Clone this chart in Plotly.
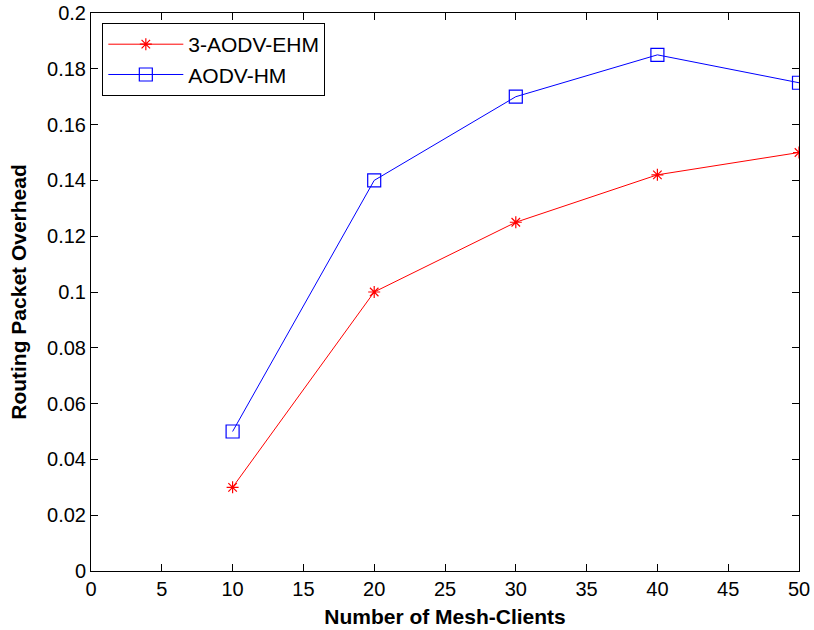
import plotly.graph_objects as go

# Number of mesh clients and the routing overhead measured for each protocol
clients = [10, 20, 30, 40, 50]
overhead_3aodv_ehm = [0.03, 0.10, 0.125, 0.142, 0.150]
overhead_aodv_hm = [0.05, 0.14, 0.17, 0.185, 0.175]

x_ticks = [0, 5, 10, 15, 20, 25, 30, 35, 40, 45, 50]
y_ticks = [0, 0.02, 0.04, 0.06, 0.08, 0.1, 0.12, 0.14, 0.16, 0.18, 0.2]
y_tick_text = ["0", "0.02", "0.04", "0.06", "0.08", "0.1", "0.12", "0.14", "0.16", "0.18", "0.2"]

fig = go.Figure()
fig.add_trace(go.Scatter(
    x=clients, y=overhead_3aodv_ehm, name="3-AODV-EHM",
    mode="lines+markers",
    line=dict(color="#ff0000", width=1),
    marker=dict(symbol="asterisk-open", size=10, color="#ff0000",
                line=dict(color="#ff0000", width=1.2)),
))
fig.add_trace(go.Scatter(
    x=clients, y=overhead_aodv_hm, name="AODV-HM",
    mode="lines+markers",
    line=dict(color="#0000ff", width=1),
    marker=dict(symbol="square-open", size=13, color="#0000ff",
                line=dict(color="#0000ff", width=1.2)),
))

tick_font = dict(family="Liberation Sans, Arial", size=20, color="black")
title_font = dict(family="Liberation Sans, Arial", size=21, color="black")
fig.update_layout(
    width=814, height=630,
    margin=dict(l=91, r=15, t=13, b=59),
    paper_bgcolor="white", plot_bgcolor="white",
    font=tick_font,
    showlegend=True,
    legend=dict(
        x=0.016, y=0.982, xanchor="left", yanchor="top",
        bgcolor="white", bordercolor="black", borderwidth=1,
        font=dict(family="Liberation Sans, Arial", size=21, color="black"),
        itemwidth=75,
        tracegroupgap=2,
    ),
    xaxis=dict(
        range=[0, 50], tickvals=x_ticks, ticks="inside", ticklen=7,
        tickcolor="black", showgrid=False, zeroline=False,
        showline=True, linecolor="black", linewidth=1, mirror="ticks",
        tickfont=tick_font, automargin=False,
        title=dict(text="<b>Number of Mesh-Clients</b>", standoff=10,
                   font=title_font),
    ),
    yaxis=dict(
        range=[0, 0.2], tickvals=y_ticks, ticktext=y_tick_text,
        ticks="inside", ticklen=7,
        tickcolor="black", showgrid=False, zeroline=False,
        showline=True, linecolor="black", linewidth=1, mirror="ticks",
        tickfont=tick_font, automargin=False,
        title=dict(text="<b>Routing Packet Overhead</b>", standoff=14,
                   font=title_font),
    ),
)

fig.write_html("out.html")
